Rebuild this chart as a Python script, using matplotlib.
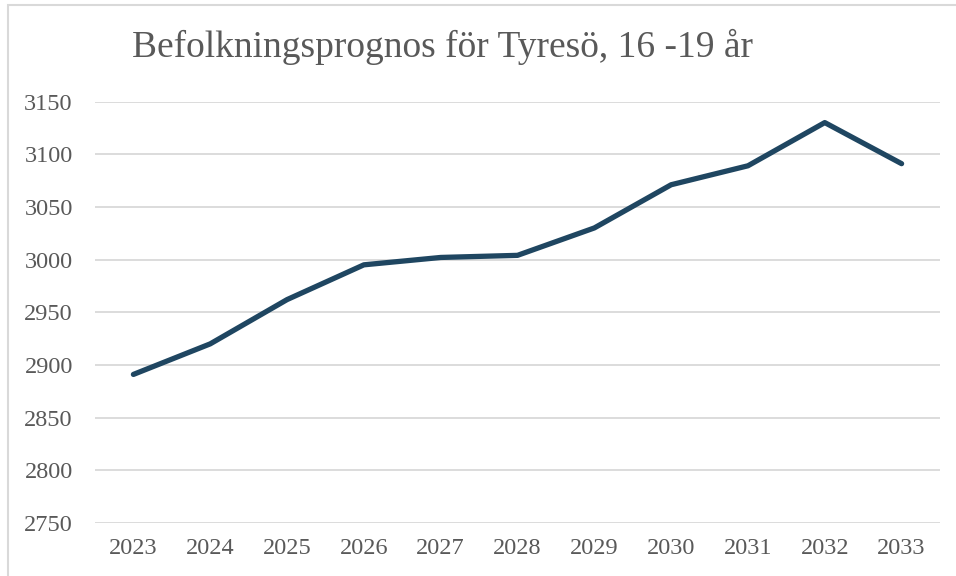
import matplotlib.pyplot as plt
from matplotlib.patches import Rectangle

# Data
years = ["2023", "2024", "2025", "2026", "2027", "2028",
         "2029", "2030", "2031", "2032", "2033"]
population = [2891, 2920, 2962, 2995, 3002, 3004, 3030, 3071, 3089, 3130, 3091]
yticks = [2750, 2800, 2850, 2900, 2950, 3000, 3050, 3100, 3150]
title = "Befolkningsprognos för Tyresö, 16 -19 år"

plt.rcParams['font.family'] = ['Liberation Serif', 'DejaVu Serif']

W, H = 956, 576
fig = plt.figure(figsize=(W / 100, H / 100), dpi=100)
ax = fig.add_axes([95 / W, 1 - 523 / H, (940 - 95) / W, (523 - 101.5) / H])

# Chart border (partly clipped in the reference)
fig.patches.append(Rectangle((8 / W, -0.2), 1.5, 1.2 - 5 / H,
                             transform=fig.transFigure, fill=False,
                             edgecolor="#d9d9d9", lw=1.5))

x = range(len(years))
ax.plot(x, population, color="#1f4661", lw=3.8, solid_capstyle="round",
        solid_joinstyle="round", zorder=3)

ax.set_xlim(-0.5, len(years) - 0.5)
ax.set_ylim(2750, 3150)
ax.set_yticks(yticks)
ax.set_xticks(list(x))
ax.set_xticklabels(years)
ax.yaxis.grid(True, color="#d9d9d9", lw=1.3)
ax.set_axisbelow(True)
for s in ax.spines.values():
    s.set_visible(False)
ax.tick_params(length=0, labelsize=17.5, labelcolor="#595959")
ax.tick_params(axis="y", pad=16)
ax.tick_params(axis="x", pad=11)

fig.text(132 / W, 1 - 47 / H, title, fontsize=27, color="#595959",
         ha="left", va="center")

fig.savefig("out.png", dpi=100)
